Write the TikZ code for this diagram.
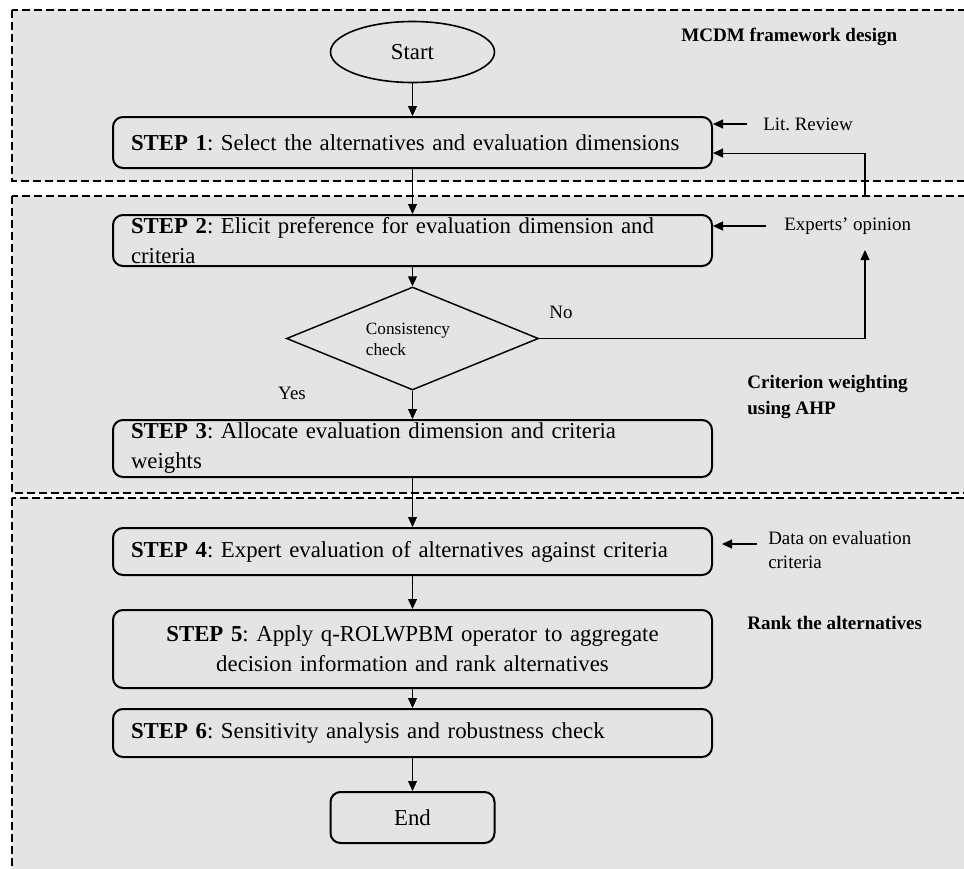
\documentclass[tikz,border=0pt]{standalone}
\usepackage{fontspec}
\setmainfont{Liberation Serif}
\usetikzlibrary{shapes.geometric,arrows.meta}
\definecolor{panelgray}{RGB}{228,228,228}
\frenchspacing
\newcommand\mainfs{\fontsize{17.1pt}{22.5pt}\selectfont\frenchspacing\hyphenpenalty=10000 }
\newcommand\smallfs{\fontsize{14.2pt}{18pt}\selectfont\frenchspacing}
\newcommand\consfs{\fontsize{12.9pt}{15.75pt}\selectfont}
\newcommand\boldfs{\fontsize{14.3pt}{19.5pt}\selectfont\bfseries}
\begin{document}
\begin{tikzpicture}[x=0.75pt,y=-0.75pt,
  stepbox/.style={draw, line width=1.5pt, rounded corners=7.5pt, fill=panelgray,
    minimum width=449.25pt, text width=422.25pt, inner xsep=13.5pt, inner ysep=0pt,
    align=left, font=\mainfs},
  arr/.style={line width=0.8pt, -{Triangle[length=7.5pt,width=6.75pt]}},
  panel/.style={draw, dash pattern=on 6pt off 3pt, line width=1pt, fill=panelgray},
  small/.style={inner sep=0pt, font=\smallfs, align=left},
  boldlbl/.style={inner sep=0pt, font=\boldfs, align=left}]
\useasboundingbox (0,0) rectangle (964,868);
\fill[white] (0,0) rectangle (964,868);
\begin{scope}
\clip (0,0) rectangle (964,868);
\draw[panel] (12,10) rectangle (990,181);
\draw[panel] (12,196) rectangle (990,493);
\draw[panel] (12,498) rectangle (990,890);
\end{scope}

% nodes
\node[ellipse, draw, line width=1.2pt, fill=panelgray, minimum width=123pt, minimum height=45.75pt, inner sep=0pt, font=\mainfs] (start) at (412.5,52) {Start};
\node[stepbox, minimum height=38.25pt] (s1) at (412.5,142.5) {\textbf{STEP 1}: Select the alternatives and evaluation dimensions};
\node[stepbox, minimum height=38.25pt] (s2) at (412.5,240.5) {\textbf{STEP 2}: Elicit preference for evaluation dimension and\\criteria};
\node[diamond, draw, line width=1.1pt, fill=panelgray, minimum width=189pt, minimum height=77.25pt, inner sep=0pt] (dia) at (412.5,338.5) {};
\node[inner sep=0pt, font=\consfs, align=left] (diatext) at (408,339.5) {Consistency\\check};
\node[stepbox, minimum height=42.75pt] (s3) at (412.5,448.5) {\textbf{STEP 3}: Allocate evaluation dimension and criteria\\weights};
\node[stepbox, minimum height=35.25pt] (s4) at (412.5,551.5) {\textbf{STEP 4}: Expert evaluation of alternatives against criteria};
\node[stepbox, minimum height=58.5pt, align=center] (s5) at (412.5,649) {\textbf{STEP 5}: Apply q-ROLWPBM operator to aggregate\\decision information and rank alternatives};
\node[stepbox, minimum height=36pt] (s6) at (412.5,733) {\textbf{STEP 6}: Sensitivity analysis and robustness check};
\node[draw, line width=1.5pt, rounded corners=7.5pt, fill=panelgray, minimum width=123pt, minimum height=38.25pt, inner sep=0pt, font=\mainfs] (end) at (412.5,817.5) {End};

% side labels
\node[boldlbl, anchor=west] (mcdm) at (681,37) {MCDM framework design};
\node[boldlbl, anchor=west] (crit) at (747,397) {Criterion weighting\\using AHP};
\node[boldlbl, anchor=west] (rank) at (747,623) {Rank the alternatives};
\node[small, anchor=west] (lit) at (763,124) {Lit. Review};
\node[small, anchor=west] (exp) at (784,226) {Experts' opinion};
\node[small, anchor=west] (data) at (768,550) {Data on evaluation\\criteria};
\node[small] (no) at (561,312) {No};
\node[small] (yes) at (292,393) {Yes};

% main flow
\draw[arr] (start.south) -- (s1.north);
\draw[arr] (s1.south) -- (s2.north);
\draw[arr] (s2.south) -- (dia.north);
\draw[arr] (dia.south) -- (s3.north);
\draw[arr] (s3.south) -- (s4.north);
\draw[arr] (s4.south) -- (s5.north);
\draw[arr] (s5.south) -- (s6.north);
\draw[arr] (s6.south) -- (end.north);

% side arrows
\draw[arr] ([xshift=-12pt]lit.west) -- (lit.west -| s1.east);
\draw[arr] ([xshift=-13.5pt]exp.west) -- (exp.west -| s2.east);
\coordinate (dA) at (757,544);
\coordinate (dB) at (722,544);
\draw[arr] (dA) -- (dB);
\coordinate (fbup) at (865,250);
\draw[arr] (dia.east) -| (fbup);
\coordinate (fbtop) at (865,197);
\draw[arr] (fbtop) |- ([yshift=-7.9pt]s1.east);
\end{tikzpicture}
\end{document}
